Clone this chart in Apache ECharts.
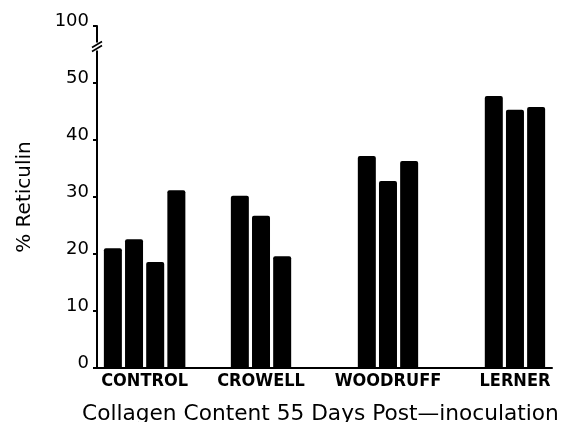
<!DOCTYPE html>
<html>
<head>
<meta charset="utf-8">
<script src="https://cdn.jsdelivr.net/npm/echarts@6/dist/echarts.min.js"></script>
<style>html,body{margin:0;padding:0;background:#fff}#c{width:567px;height:422px}</style>
</head>
<body>
<div id="c"></div>
<script>
// ---- data ----
const groups = ['CONTROL', 'CROWELL', 'WOODRUFF', 'LERNER'];
const controlValues = [21.0, 22.6, 18.6, 31.2];
const crowellValues = [30.2, 26.7, 19.6];
const woodruffValues = [37.2, 32.8, 36.3];
const lernerValues = [47.7, 45.3, 45.8];
const yTickLabels = ['0', '10', '20', '30', '40', '50', '100'];
const xTitle = 'Collagen Content 55 Days Post\u2014inoculation';
const yTitle = '% Reticulin';

// ---- layout (slot spacing) ----
const leadBlankSlots = [1, 5, 7, 7];
const trailBlankSlots = 1;
const gridLeft = 97;

const groupValues = [controlValues, crowellValues, woodruffValues, lernerValues];
const slotValues = [];
const slotLabels = [];
groupValues.forEach((vals, g) => {
  for (let b = 0; b < leadBlankSlots[g]; b++) { slotValues.push('-'); slotLabels.push(''); }
  const start = slotValues.length;
  vals.forEach((v, i) => {
    if (i > 0) { slotValues.push('-'); slotLabels.push(''); }
    slotValues.push(v); slotLabels.push('');
  });
  slotLabels[start + (vals.length - 1)] = groups[g];
});
for (let b = 0; b < trailBlankSlots; b++) { slotValues.push('-'); slotLabels.push(''); }
const slotIds = slotValues.map((_, i) => 's' + i);

const chart = echarts.init(document.getElementById('c'), null, { renderer: 'canvas' });
chart.setOption({
  animation: false,
  backgroundColor: '#fff',
  title: {
    text: xTitle,
    left: 77, top: 398,
    textStyle: { fontFamily: 'DejaVu Sans', fontSize: 21.7, fontWeight: 'normal', color: '#000' }
  },
  grid: { left: gridLeft, right: 15, top: 26, bottom: 54, containLabel: false, outerBoundsMode: 'none' },
  xAxis: {
    type: 'category',
    data: slotIds,
    axisLine: { lineStyle: { color: '#000', width: 2 } },
    axisTick: { show: false },
    axisLabel: {
      interval: 0, margin: 4,
      formatter: (v, i) => slotLabels[i],
      fontFamily: 'DejaVu Sans Condensed, DejaVu Sans, sans-serif',
      fontWeight: 'bold', fontSize: 18, color: '#000'
    },
    splitLine: { show: false }
  },
  yAxis: {
    type: 'value',
    min: 0, max: 60, interval: 10,
    name: yTitle,
    nameLocation: 'middle',
    nameGap: 62,
    nameTextStyle: { fontFamily: 'DejaVu Sans', fontSize: 20, color: '#000' },
    axisLine: { show: true, lineStyle: { color: '#000', width: 2 } },
    axisTick: { show: true, length: 4, lineStyle: { color: '#000', width: 2 } },
    axisLabel: {
      margin: 8,
      formatter: (v) => yTickLabels[Math.round(v / 10)],
      fontFamily: 'DejaVu Sans', fontSize: 18, color: '#000',
      verticalAlign: 'bottom', lineHeight: 10
    },
    splitLine: { show: false }
  },
  series: [{
    type: 'bar',
    data: slotValues,
    barWidth: 18,
    itemStyle: { color: '#000', borderRadius: [2, 2, 0, 0] }
  }]
});

// axis break decoration on the y axis between 50 and 100
const breakValue = 56.4;
const yb = chart.convertToPixel({ yAxisIndex: 0 }, breakValue);
chart.setOption({
  graphic: [
    { type: 'rect', shape: { x: gridLeft - 4, y: yb - 4, width: 8, height: 8 }, style: { fill: '#fff' }, z: 100 },
    { type: 'line', shape: { x1: gridLeft - 5, y1: yb + 1, x2: gridLeft + 5, y2: yb - 5 }, style: { stroke: '#000', lineWidth: 1.6 }, z: 101 },
    { type: 'line', shape: { x1: gridLeft - 5, y1: yb + 5, x2: gridLeft + 5, y2: yb - 1 }, style: { stroke: '#000', lineWidth: 1.6 }, z: 101 }
  ]
});
</script>
</body>
</html>
